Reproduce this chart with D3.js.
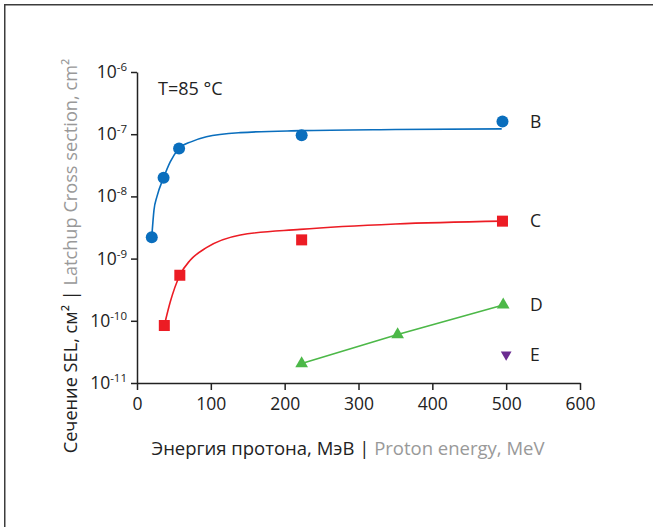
<!DOCTYPE html>
<html>
<head>
<meta charset="utf-8">
<script src="https://cdn.jsdelivr.net/npm/d3@7"></script>
<style>
  body { margin: 0; background: #fff; }
  svg { display: block; font-family: "Open Sans", sans-serif; }
</style>
</head>
<body>
<svg id="chart" width="653" height="527"></svg>
<script>
// measured points (energy MeV, cross section cm2)
const energyB = [20, 36, 57, 223, 495];
const sigmaB = [2.2e-9, 2.0e-8, 5.9e-8, 9.6e-8, 1.6e-7];
const energyC = [37, 58, 223, 495];
const sigmaC = [8.4e-11, 5.4e-10, 2.0e-9, 4.0e-9];
const energyD = [223, 353, 496];
const sigmaD = [2.05e-11, 6.0e-11, 1.8e-10];
const energyE = [500];
const sigmaE = [2.86e-11];

// fitted curves
const fitB_E = [20, 23, 27, 36, 45, 57, 74, 94, 140, 221, 350, 494];
const fitB_S = [2.2e-9, 6.0e-9, 9.9e-9, 2.0e-8, 3.6e-8, 5.9e-8, 7.6e-8, 9.1e-8, 1.06e-7, 1.14e-7, 1.19e-7, 1.22e-7];
const fitC_E = [37, 45, 58, 72, 94, 140, 221, 350, 495];
const fitC_S = [8.4e-11, 2.0e-10, 5.4e-10, 9.4e-10, 1.5e-9, 2.4e-9, 2.95e-9, 3.6e-9, 4.0e-9];

const seriesNames = ["B", "C", "D", "E"];
const xTicks = [0, 100, 200, 300, 400, 500, 600];
const yTicks = [1e-11, 1e-10, 1e-9, 1e-8, 1e-7, 1e-6];
const yExp = ["-11", "-10", "-9", "-8", "-7", "-6"];

const svg = d3.select("#chart");

// frame (only top and left edges show)
svg.append("path")
  .attr("d", "M4.75,527V4.75H653")
  .attr("fill", "none")
  .attr("stroke", "#3c3c3c")
  .attr("stroke-width", 1.5);

const x = d3.scaleLinear().domain([0, 600]).range([137, 580]);
const y = d3.scaleLog().domain([1e-11, 1e-6]).range([383, 72]);

// x axis
const gx = svg.append("g")
  .attr("transform", "translate(0,383)")
  .call(d3.axisBottom(x).tickValues(xTicks).tickSize(7).tickSizeOuter(0).tickPadding(8));
gx.selectAll("text").attr("font-size", 17.5).attr("fill", "#222").attr("font-family", "Open Sans");

// y axis
const gy = svg.append("g")
  .attr("transform", "translate(137,0)")
  .call(d3.axisLeft(y).tickValues(yTicks).tickSize(6).tickSizeOuter(0).tickFormat(""));

[gx, gy].forEach(g => {
  g.select(".domain").attr("stroke", "#222").attr("stroke-width", 1.5);
  g.selectAll(".tick line").attr("stroke", "#222").attr("stroke-width", 1.5);
});

// y tick labels 10^n
yTicks.forEach((v, i) => {
  const t = svg.append("text")
    .attr("x", 127)
    .attr("y", y(v) + 6)
    .attr("text-anchor", "end")
    .attr("font-size", 17.5)
    .attr("fill", "#222");
  t.append("tspan").text("10");
  t.append("tspan").attr("font-size", 11.5).attr("dy", -7).text(yExp[i]);
});

// axis titles
const xt = svg.append("text")
  .attr("x", 348)
  .attr("y", 455)
  .attr("text-anchor", "middle")
  .attr("font-size", 18.5);
xt.append("tspan").attr("fill", "#222").text("Энергия протона, МэВ | ");
xt.append("tspan").attr("fill", "#999").text("Proton energy, MeV");

const yt = svg.append("text")
  .attr("transform", "translate(77,256) rotate(-90)")
  .attr("text-anchor", "middle")
  .attr("font-size", 18.2);
yt.append("tspan").attr("fill", "#222").text("Сечение SEL, см² | ");
yt.append("tspan").attr("fill", "#999").text("Latchup Cross section, cm²");

svg.append("text")
  .attr("x", 158)
  .attr("y", 95)
  .attr("font-size", 18)
  .attr("fill", "#222")
  .text("T=85 °C");

// curves
const line = d3.line().x(d => x(d[0])).y(d => y(d[1])).curve(d3.curveMonotoneX);

svg.append("path")
  .datum(fitB_E.map((e, i) => [e, fitB_S[i]]))
  .attr("d", line)
  .attr("fill", "none")
  .attr("stroke", "#0a6ebd")
  .attr("stroke-width", 1.6);

svg.append("path")
  .datum(fitC_E.map((e, i) => [e, fitC_S[i]]))
  .attr("d", line)
  .attr("fill", "none")
  .attr("stroke", "#ec1c24")
  .attr("stroke-width", 1.6);

svg.append("path")
  .datum(energyD.map((e, i) => [e, sigmaD[i]]))
  .attr("d", d3.line().x(d => x(d[0])).y(d => y(d[1])))
  .attr("fill", "none")
  .attr("stroke", "#4cb848")
  .attr("stroke-width", 1.6);

// markers
svg.selectAll(".mB")
  .data(energyB.map((e, i) => [e, sigmaB[i]]))
  .join("circle")
  .attr("cx", d => x(d[0]))
  .attr("cy", d => y(d[1]))
  .attr("r", 6)
  .attr("fill", "#0a6ebd");

svg.selectAll(".mC")
  .data(energyC.map((e, i) => [e, sigmaC[i]]))
  .join("rect")
  .attr("x", d => x(d[0]) - 5.5)
  .attr("y", d => y(d[1]) - 5.5)
  .attr("width", 11)
  .attr("height", 11)
  .attr("fill", "#ec1c24");

const tri = d3.symbol().type(d3.symbolTriangle).size(70);
svg.selectAll(".mD")
  .data(energyD.map((e, i) => [e, sigmaD[i]]))
  .join("path")
  .attr("d", tri)
  .attr("transform", d => `translate(${x(d[0])},${y(d[1])})`)
  .attr("fill", "#4cb848");

const triE = d3.symbol().type(d3.symbolTriangle).size(50);
svg.selectAll(".mE")
  .data(energyE.map((e, i) => [e, sigmaE[i]]))
  .join("path")
  .attr("d", triE)
  .attr("transform", d => `translate(${x(d[0])},${y(d[1])}) rotate(180)`)
  .attr("fill", "#6b2c91");

// series labels next to the last point
const lastPts = [
  [energyB[energyB.length - 1], sigmaB[sigmaB.length - 1]],
  [energyC[energyC.length - 1], sigmaC[sigmaC.length - 1]],
  [energyD[energyD.length - 1], sigmaD[sigmaD.length - 1]],
  [energyE[energyE.length - 1], sigmaE[sigmaE.length - 1]]
];
svg.selectAll(".lbl")
  .data(seriesNames)
  .join("text")
  .attr("x", 530)
  .attr("y", (d, i) => y(lastPts[i][1]) + 6)
  .attr("font-size", 17.5)
  .attr("fill", "#222")
  .text(d => d);
</script>
</body>
</html>
